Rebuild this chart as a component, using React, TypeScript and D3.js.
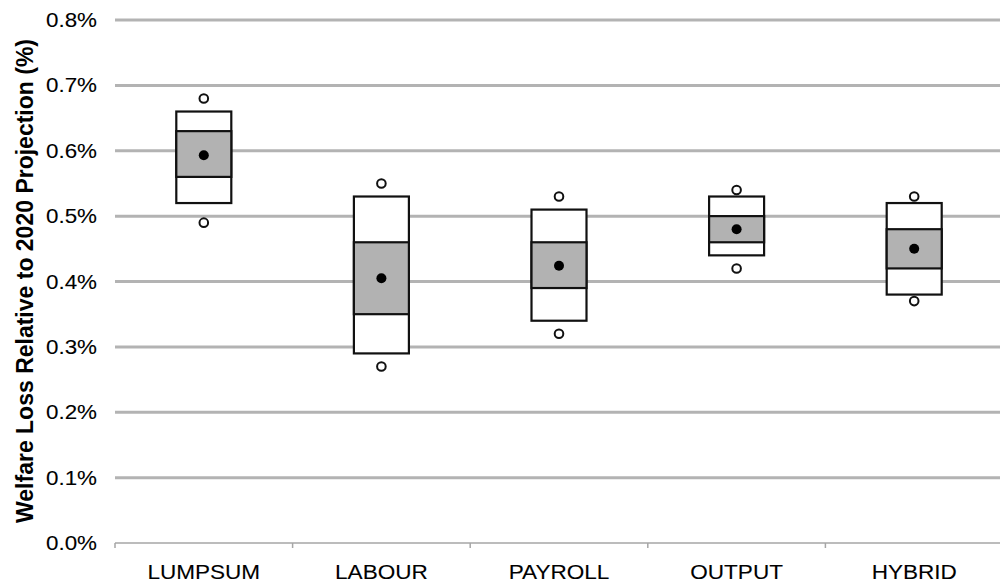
import React from "react";
import * as d3 from "d3";

const categories = ["LUMPSUM", "LABOUR", "PAYROLL", "OUTPUT", "HYBRID"];
const maxPoint = [0.68, 0.55, 0.53, 0.54, 0.53];
const boxHigh = [0.66, 0.53, 0.51, 0.53, 0.52];
const innerHigh = [0.63, 0.46, 0.46, 0.50, 0.48];
const meanValue = [0.593, 0.405, 0.424, 0.48, 0.45];
const innerLow = [0.56, 0.35, 0.39, 0.46, 0.42];
const boxLow = [0.52, 0.29, 0.34, 0.44, 0.38];
const minPoint = [0.49, 0.27, 0.32, 0.42, 0.37];
const yTicks = [0, 0.1, 0.2, 0.3, 0.4, 0.5, 0.6, 0.7, 0.8];

const W = 1000;
const H = 584;
const FONT = "'Liberation Sans', Arial, sans-serif";

export default function App() {
  const x = d3.scaleBand<string>().domain(categories).range([115, 1003]).padding(0);
  const y = d3.scaleLinear().domain([0, 0.8]).range([543, 20]);
  const boxW = 55;
  const fmt = (v: number) => d3.format(".1f")(v) + "%";

  return (
    <svg width={W} height={H} style={{ position: "absolute", left: 0, top: 0, background: "#fff" }}>
      {yTicks.slice(1).map((t) => (
        <line key={t} x1={115} x2={W} y1={y(t)} y2={y(t)} stroke="#b3b3b3" strokeWidth={3} />
      ))}
      <line x1={115} x2={W} y1={y(0)} y2={y(0)} stroke="#a6a6a6" strokeWidth={1.5} />
      {categories.map((c) => (
        <line key={"t" + c} x1={x(c) as number} x2={x(c) as number} y1={y(0)} y2={y(0) + 5} stroke="#a6a6a6" strokeWidth={1.5} />
      ))}
      {yTicks.map((t) => (
        <text
          key={"l" + t}
          transform={`translate(97,${y(t)}) scale(1.12,1)`}
          textAnchor="end"
          dominantBaseline="central"
          fontFamily={FONT}
          fontSize={20}
          fill="#000"
          stroke="#000"
          strokeWidth={0.1}
        >
          {fmt(t)}
        </text>
      ))}
      {categories.map((c) => {
        const cx = (x(c) as number) + x.bandwidth() / 2;
        return (
          <text
            key={"x" + c}
            transform={`translate(${cx},578.5) scale(1.1,1)`}
            textAnchor="middle"
            fontFamily={FONT}
            fontSize={20.5}
            fill="#000"
            stroke="#000"
            strokeWidth={0.1}
          >
            {c}
          </text>
        );
      })}
      <text
        transform={`translate(32.5,281) rotate(-90)`}
        textAnchor="middle"
        fontFamily={FONT}
        fontSize={23}
        fontWeight="bold"
        fill="#000"
      >
        Welfare Loss Relative to 2020 Projection (%)
      </text>
      {categories.map((c, i) => {
        const cx = (x(c) as number) + x.bandwidth() / 2;
        const x0 = cx - boxW / 2;
        return (
          <g key={"b" + c}>
            <rect x={x0} y={y(boxHigh[i])} width={boxW} height={y(boxLow[i]) - y(boxHigh[i])} fill="#fff" stroke="#111" strokeWidth={2.2} />
            <rect x={x0} y={y(innerHigh[i])} width={boxW} height={y(innerLow[i]) - y(innerHigh[i])} fill="#b2b2b2" stroke="#111" strokeWidth={2.2} />
            <circle cx={cx} cy={y(meanValue[i])} r={5} fill="#000" />
            <circle cx={cx} cy={y(maxPoint[i])} r={4.3} fill="#fff" stroke="#111" strokeWidth={2} />
            <circle cx={cx} cy={y(minPoint[i])} r={4.3} fill="#fff" stroke="#111" strokeWidth={2} />
          </g>
        );
      })}
    </svg>
  );
}
